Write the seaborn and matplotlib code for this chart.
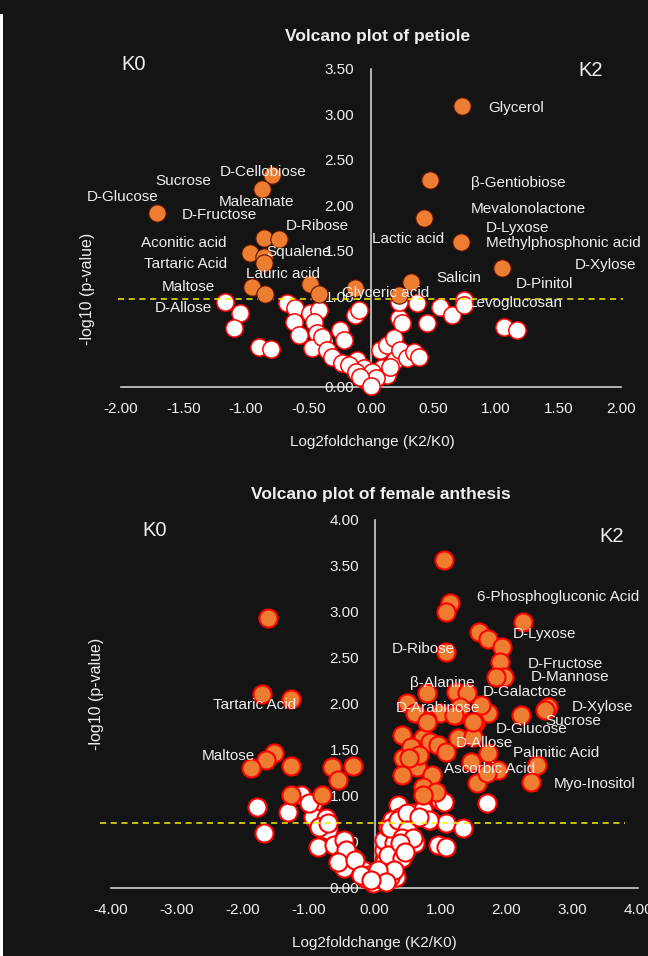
import matplotlib
matplotlib.use("Agg")
import matplotlib.pyplot as plt
import seaborn as sns
import pandas as pd
from matplotlib.patches import Rectangle
from matplotlib.ticker import FormatStrFormatter

# ---------------- petiole (K2 vs K0) ----------------
pet_sig_fc = [0.73, 0.47, 0.42, 0.72, 1.05, 0.32, 0.22, -0.13, -1.71, -0.79,
              -0.87, -0.86, -0.74, -0.97, -0.86, -0.86, -0.95, -0.85, -0.49, -0.42]
pet_sig_p = [3.09, 2.28, 1.86, 1.60, 1.31, 1.16, 1.01, 1.09, 1.91, 2.33,
             2.18, 1.64, 1.63, 1.47, 1.43, 1.36, 1.10, 1.02, 1.13, 1.02]
pet_ns_fc = [-1.17, -1.05, -1.10, -0.90, -0.80, -0.67, -0.61, -0.62, -0.58, -0.49,
             -0.42, -0.46, -0.43, -0.47, -0.39, -0.35, -0.31, -0.25, -0.22, -0.23,
             -0.13, -0.10, -0.11, -0.06, -0.05, -0.02, 0.07, 0.13, 0.18, 0.09,
             0.13, 0.19, 0.23, 0.29, 0.34, 0.38, 0.22, 0.25, 0.22, 0.37,
             0.45, 0.55, 0.65, 0.74, 0.74, 1.06, 1.17, -0.18, 0.01, 0.04,
             -0.12, 0.15, -0.09, 0.00]
pet_ns_p = [0.94, 0.81, 0.65, 0.44, 0.42, 0.92, 0.87, 0.72, 0.57, 0.81,
            0.85, 0.72, 0.59, 0.43, 0.55, 0.41, 0.33, 0.63, 0.52, 0.26,
            0.79, 0.85, 0.30, 0.21, 0.08, 0.04, 0.41, 0.46, 0.54, 0.21,
            0.13, 0.30, 0.41, 0.32, 0.39, 0.33, 0.76, 0.70, 0.94, 0.92,
            0.70, 0.88, 0.79, 0.96, 0.90, 0.66, 0.63, 0.24, 0.17, 0.10,
            0.17, 0.22, 0.11, 0.01]
pet_threshold = 0.97
pet_xticks = [-2.0, -1.5, -1.0, -0.5, 0.0, 0.5, 1.0, 1.5, 2.0]
pet_yticks = [0.0, 0.5, 1.0, 1.5, 2.0, 2.5, 3.0, 3.5]
pet_names = ["Glycerol", "β-Gentiobiose", "Mevalonolactone", "D-Lyxose",
             "Methylphosphonic acid", "D-Xylose", "D-Pinitol", "Salicin",
             "Lactic acid", "Glyceric acid", "Levoglucosan", "Sucrose",
             "D-Cellobiose", "D-Glucose", "Maleamate", "D-Fructose", "D-Ribose",
             "Aconitic acid", "Squalene", "Tartaric Acid", "Lauric acid",
             "Maltose", "D-Allose"]

# ---------------- female anthesis (K2 vs K0) ----------------
fa_sig_fc = [-1.61, -1.71, -1.26, -1.53, -1.65, -1.87, -1.27, -0.64, -0.32, -0.55,
             -1.27, -0.79, 1.05, 1.14, 1.08, 2.26, 1.59, 1.73, 1.94, 1.08,
             1.91, 1.97, 1.84, 0.79, 1.24, 1.40, 0.49, 2.63, 2.59, 2.22,
             1.73, 1.61, 1.23, 1.00, 0.80, 0.62, 1.53, 0.42, 0.74, 0.85,
             0.96, 1.08, 1.26, 1.49, 0.58, 0.44, 0.65, 1.73, 1.46, 1.87,
             2.47, 2.37, 1.56, 0.42, 0.88, 0.74, 0.93, 0.73, 0.55, 0.67,
             0.52, 1.71, 1.30, 0.80, 1.50, 1.20]
fa_sig_p = [2.93, 2.10, 2.05, 1.46, 1.39, 1.30, 1.32, 1.31, 1.32, 1.17,
            1.01, 1.01, 3.56, 3.09, 2.99, 2.89, 2.78, 2.70, 2.61, 2.56,
            2.45, 2.29, 2.29, 2.11, 2.13, 2.11, 2.01, 1.96, 1.93, 1.88,
            1.90, 1.98, 1.88, 1.90, 1.82, 1.90, 1.79, 1.66, 1.63, 1.58,
            1.55, 1.47, 1.63, 1.64, 1.52, 1.41, 1.31, 1.46, 1.36, 1.28,
            1.33, 1.15, 1.14, 1.22, 1.22, 1.09, 1.04, 1.01, 1.53, 1.44,
            1.41, 1.24, 1.96, 1.80, 1.80, 1.88]
fa_ns_fc = [-1.78, -1.68, -1.31, -1.12, -0.94, -0.94, -0.74, -0.82, -0.70, -0.86,
            -0.62, -0.47, -0.52, -0.47, -0.32, -0.18, -0.09, -0.02, -0.14, 0.09,
            0.20, 0.32, 0.14, 0.27, 0.39, 0.14, 0.14, 0.29, 0.44, 0.62,
            0.20, 0.35, 0.50, 0.59, 0.36, 0.39, 0.27, 0.85, 1.08, 1.34,
            0.96, 1.08, 1.71, 1.00, 0.73, -1.00, -0.85, -0.70, -0.44, -0.55,
            -0.29, 0.05, 0.24, 0.14, 0.20, 0.24, 0.36, 0.50, 0.50, 0.42,
            0.42, 0.29, 0.59, 0.82, 1.05, 0.67, 0.39, 0.47, -0.21, 0.06,
            0.17, -0.06]
fa_ns_p = [0.88, 0.59, 0.82, 1.01, 0.92, 0.77, 0.76, 0.66, 0.63, 0.44,
           0.46, 0.52, 0.30, 0.21, 0.32, 0.19, 0.14, 0.05, 0.10, 0.10,
           0.16, 0.11, 0.30, 0.32, 0.33, 0.41, 0.52, 0.48, 0.44, 0.48,
           0.66, 0.65, 0.66, 0.81, 0.90, 0.77, 0.73, 0.73, 0.70, 0.65,
           0.46, 0.44, 0.92, 0.95, 0.84, 0.92, 0.66, 0.70, 0.41, 0.28,
           0.30, 0.10, 0.11, 0.27, 0.35, 0.65, 0.73, 0.81, 0.63, 0.54,
           0.32, 0.19, 0.54, 0.73, 0.93, 0.77, 0.48, 0.39, 0.14, 0.19,
           0.06, 0.08]
fa_threshold = 0.70
fa_xticks = [-4.0, -3.0, -2.0, -1.0, 0.0, 1.0, 2.0, 3.0, 4.0]
fa_yticks = [0.0, 0.5, 1.0, 1.5, 2.0, 2.5, 3.0, 3.5, 4.0]
fa_names = ["Tartaric Acid", "Maltose", "D-Ribose", "β-Alanine", "D-Arabinose",
            "6-Phosphogluconic Acid", "D-Lyxose", "D-Fructose", "D-Mannose",
            "D-Galactose", "D-Xylose", "Sucrose", "D-Glucose", "D-Allose",
            "Palmitic Acid", "Ascorbic Acid", "Myo-Inositol"]

# label anchor points (data units), one per name
pet_label_xy = [(1.16, 3.07), (1.18, 2.24), (1.26, 1.96), (1.17, 1.75), (1.54, 1.58),
                (1.88, 1.34), (1.39, 1.13), (0.70, 1.20), (0.30, 1.63), (0.12, 1.03),
                (1.16, 0.92), (-1.50, 2.27), (-0.86, 2.37), (-1.99, 2.09), (-0.92, 2.04),
                (-1.21, 1.89), (-0.43, 1.77), (-1.50, 1.58), (-0.58, 1.49), (-1.48, 1.35),
                (-0.70, 1.24), (-1.46, 1.10), (-1.50, 0.87)]
fa_label_xy = [(-1.82, 1.98), (-2.22, 1.43), (0.74, 2.59), (1.03, 2.22), (0.97, 1.95),
               (2.79, 3.16), (2.58, 2.76), (2.90, 2.43), (2.97, 2.29), (2.29, 2.13),
               (3.46, 1.96), (3.02, 1.81), (2.38, 1.72), (1.67, 1.57), (2.76, 1.46),
               (1.75, 1.29), (3.34, 1.13)]

BG = "#141414"
TXT = "#efefef"
AXIS = "#cfcfcf"
ORANGE = "#ED7D31"
RED = "#FF0000"
FS = 11  # tick / point label size

sns.set_theme(style="dark")
plt.rcParams["font.family"] = ["Liberation Sans", "DejaVu Sans"]

W, H = 648, 956
fig = plt.figure(figsize=(W / 100, H / 100), dpi=100, facecolor=BG)


def px_box(x0, x1, y_top, y_bot):
    return [x0 / W, 1 - y_bot / H, (x1 - x0) / W, (y_bot - y_top) / H]


def style_axes(ax, xticks, yticks, xpad, ypad):
    ax.set_facecolor("none")
    ax.grid(False)
    ax.set_xlim(xticks[0], xticks[-1])
    ax.set_ylim(yticks[0], yticks[-1])
    for s in ("top", "right"):
        ax.spines[s].set_visible(False)
    ax.spines["left"].set_position(("data", 0))
    ax.spines["bottom"].set_position(("data", 0))
    for s in ("left", "bottom"):
        ax.spines[s].set_color(AXIS)
        ax.spines[s].set_linewidth(1.2)
        ax.spines[s].set_zorder(0.5)
    ax.set_xticks(xticks)
    ax.set_yticks(yticks)
    ax.xaxis.set_major_formatter(FormatStrFormatter("%.2f"))
    ax.yaxis.set_major_formatter(FormatStrFormatter("%.2f"))
    ax.tick_params(axis="x", length=0, pad=xpad, labelsize=FS, labelcolor=TXT)
    ax.tick_params(axis="y", length=0, pad=ypad, labelsize=FS, labelcolor=TXT)
    ax.set_axisbelow(True)
    ax.set_xlabel("")
    ax.set_ylabel("")


def draw_panel(ax, sig_fc, sig_p, ns_fc, ns_p, thr, names, label_xy,
               size, sig_edge, sig_lw, ns_lw, thr_span):
    ns = pd.DataFrame({"fc": ns_fc, "p": ns_p})
    sig = pd.DataFrame({"fc": sig_fc, "p": sig_p})
    sns.scatterplot(data=ns, x="fc", y="p", ax=ax, color="white", edgecolor=RED,
                    linewidth=ns_lw, s=size, clip_on=False, legend=False, zorder=2)
    sns.scatterplot(data=sig, x="fc", y="p", ax=ax, color=ORANGE, edgecolor=sig_edge,
                    linewidth=sig_lw, s=size, clip_on=False, legend=False, zorder=2.2)
    ax.set_xlabel("")
    ax.set_ylabel("")
    ax.axhline(thr, xmin=thr_span[0], xmax=thr_span[1], color="#f2f200",
               lw=1.1, ls=(0, (4, 3)), clip_on=False, zorder=2.1)
    for name, (lx, ly) in zip(names, label_xy):
        ax.text(lx, ly, name, ha="center", va="center", color=TXT,
                fontsize=FS, zorder=4)


# top panel
ax1 = fig.add_axes(px_box(121, 621, 69, 387))
style_axes(ax1, pet_xticks, pet_yticks, xpad=11, ypad=12)
draw_panel(ax1, pet_sig_fc, pet_sig_p, pet_ns_fc, pet_ns_p, pet_threshold,
           pet_names, pet_label_xy, size=155, sig_edge="#5a1400", sig_lw=0.8,
           ns_lw=1.1, thr_span=(-0.006, 1.004))

# bottom panel
ax2 = fig.add_axes(px_box(111, 638, 519.5, 887.5))
style_axes(ax2, fa_xticks, fa_yticks, xpad=11, ypad=11)
draw_panel(ax2, fa_sig_fc, fa_sig_p, fa_ns_fc, fa_ns_p, fa_threshold,
           fa_names, fa_label_xy, size=170, sig_edge=RED, sig_lw=1.5,
           ns_lw=1.5, thr_span=(-0.02, 0.975))


def ftext(x, y, s, **kw):
    fig.text(x / W, 1 - y / H, s, ha="center", va="center", color=TXT, **kw)


# titles, group tags, axis titles
ftext(378, 37, "Volcano plot of petiole", fontsize=12.5, fontweight="bold")
ftext(381, 494, "Volcano plot of female anthesis", fontsize=12.5, fontweight="bold")
ftext(134, 64, "K0", fontsize=14.5)
ftext(591, 70, "K2", fontsize=14.5)
ftext(155, 531, "K0", fontsize=14.5)
ftext(612, 537, "K2", fontsize=14.5)
ftext(372, 442, "Log2foldchange (K2/K0)", fontsize=FS)
ftext(374, 943, "Log2foldchange (K2/K0)", fontsize=FS)
ftext(87, 289, "-log10 (p-value)", fontsize=11.5, rotation=90)
ftext(97, 694, "-log10 (p-value)", fontsize=11.5, rotation=90)

# white strip along the left edge
fig.add_artist(Rectangle((0, 0), 3 / W, (H - 14) / H, transform=fig.transFigure,
                         facecolor="white", edgecolor="none"))

fig.savefig("out.png", dpi=100, facecolor=BG)
